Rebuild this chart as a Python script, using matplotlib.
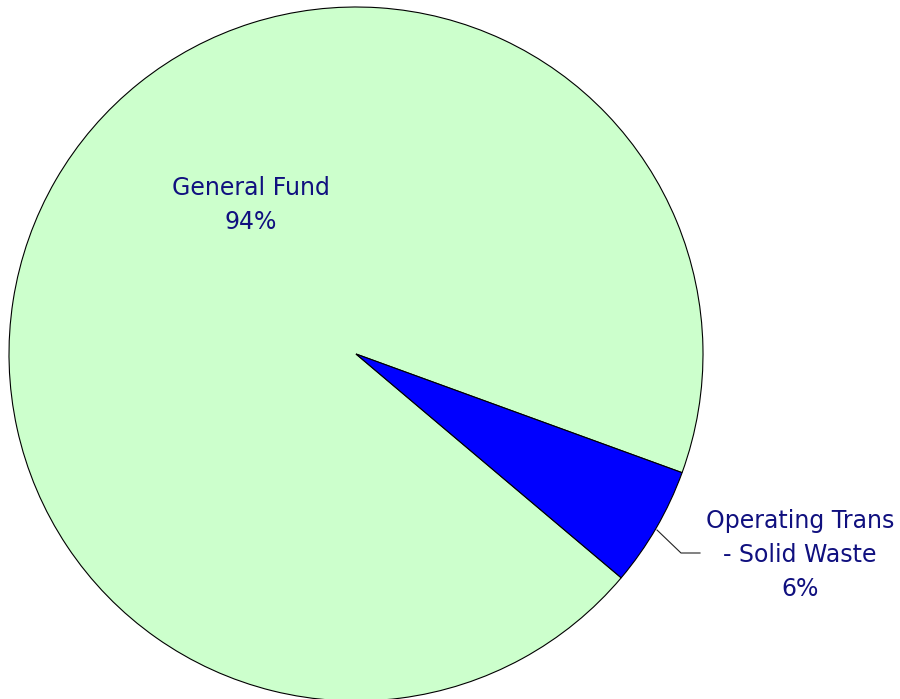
import matplotlib
matplotlib.use("Agg")
import matplotlib.pyplot as plt

labels = ["General Fund", "Operating Trans\n- Solid Waste"]
values = [94.4, 5.6]
pct_labels = ["94%", "6%"]
colors = ["#ccffcc", "#0000ff"]
text_color = "#10107f"

fig = plt.figure(figsize=(9, 6.99), dpi=100)
ax = fig.add_axes([0, 0, 1, 1])

cx, cy, r = 356, 699 - 354, 347
wedges, _ = ax.pie(values, colors=colors, startangle=-20, counterclock=True,
                   center=(cx, cy), radius=r, frame=True,
                   wedgeprops=dict(edgecolor="black", linewidth=0.8))
ax.set_xlim(0, 900)
ax.set_ylim(0, 699)
ax.set_aspect("equal")
ax.axis("off")

ax.text(251, 699 - 205, labels[0] + "\n" + pct_labels[0], ha="center", va="center",
        fontsize=17, color=text_color, linespacing=1.52)
ax.text(800, 699 - 555, labels[1] + "\n" + pct_labels[1], ha="center", va="center",
        fontsize=17, color=text_color, linespacing=1.52)

ax.plot([657, 681, 700], [699 - 530, 699 - 553, 699 - 553], color="#222222", linewidth=0.8)

fig.savefig("out.png", dpi=100)
